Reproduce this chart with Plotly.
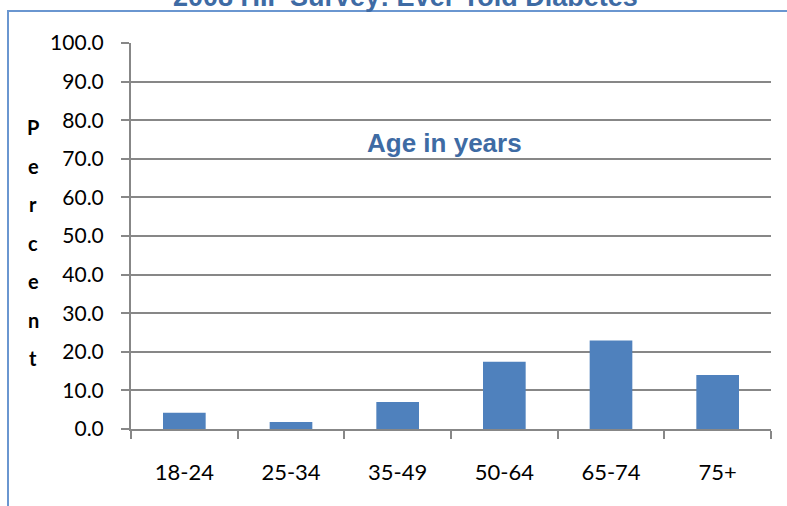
import plotly.graph_objects as go

# Age groups and share of adults ever told they have diabetes (%)
age_groups = ["18-24", "25-34", "35-49", "50-64", "65-74", "75+"]
percent = [4.2, 1.8, 7.0, 17.4, 22.9, 14.0]
y_ticks = [0, 10, 20, 30, 40, 50, 60, 70, 80, 90, 100]

W, H = 787, 506
L, R, T, B = 131, 16, 43, 77
plot_h = H - T - B
plot_w = W - L - R

def py(px_from_top):
    """Convert a pixel row to paper y."""
    return (H - B - px_from_top) / plot_h

def px(px_from_left):
    """Convert a pixel column to paper x."""
    return (px_from_left - L) / plot_w

fig = go.Figure(
    go.Bar(
        x=age_groups,
        y=percent,
        marker=dict(color="#4F81BD", line=dict(width=0)),
        hoverinfo="x+y",
    )
)

grey = "#878787"
font_main = "Lato, 'Open Sans', Arial, sans-serif"

fig.update_layout(
    width=W,
    height=H,
    margin=dict(l=L, r=R, t=T, b=B, pad=0),
    paper_bgcolor="white",
    plot_bgcolor="white",
    bargap=0.6,
    showlegend=False,
    font=dict(family=font_main, color="black", size=21),
    xaxis=dict(
        showline=True,
        linecolor=grey,
        linewidth=2,
        ticks="outside",
        tickson="boundaries",
        ticklen=8,
        tickwidth=2,
        tickcolor=grey,
        showgrid=False,
        tickfont=dict(size=22, family=font_main),
        ticklabelstandoff=23,
    ),
    yaxis=dict(
        range=[0, 100],
        tickvals=y_ticks,
        ticktext=[f"{v:.1f}" for v in y_ticks],
        showline=True,
        linecolor=grey,
        linewidth=2,
        ticks="outside",
        ticklen=8,
        tickwidth=2,
        tickcolor=grey,
        showgrid=True,
        gridcolor=grey,
        gridwidth=2,
        zeroline=False,
        tickfont=dict(size=21, family=font_main),
        ticklabelstandoff=13,
    ),
)

# Vertical stacked axis title
letters = "Percent"
for i, ch in enumerate(letters):
    fig.add_annotation(
        text=f"<b>{ch}</b>",
        xref="paper", yref="paper",
        x=px(33), y=py(127 + i * 38.5),
        showarrow=False,
        font=dict(family="Lato, Arial, sans-serif", size=20, color="black"),
        xanchor="center", yanchor="middle",
    )

# In-plot label
fig.add_annotation(
    text="<b>Age in years</b>",
    xref="paper", yref="paper",
    x=px(444), y=py(143),
    showarrow=False,
    font=dict(family="Liberation Sans, Arial, sans-serif", size=26, color="#3E6BA4"),
    xanchor="center", yanchor="middle",
)

# Chart title (top of frame)
fig.add_annotation(
    text="<b>2008 HII  Survey: Ever Told Diabetes</b>",
    xref="paper", yref="paper",
    x=px(405), y=py(-3),
    showarrow=False,
    font=dict(family="Liberation Sans, Arial, sans-serif", size=27, color="#3E6BA4"),
    xanchor="center", yanchor="middle",
)

# Outer frame
fig.add_shape(
    type="rect",
    xref="paper", yref="paper",
    x0=px(8), x1=px(W + 20),
    y0=py(H + 20), y1=py(11),
    line=dict(color="#6A96D0", width=2),
    fillcolor="rgba(0,0,0,0)",
    layer="below",
)

fig.write_html("out.html")
